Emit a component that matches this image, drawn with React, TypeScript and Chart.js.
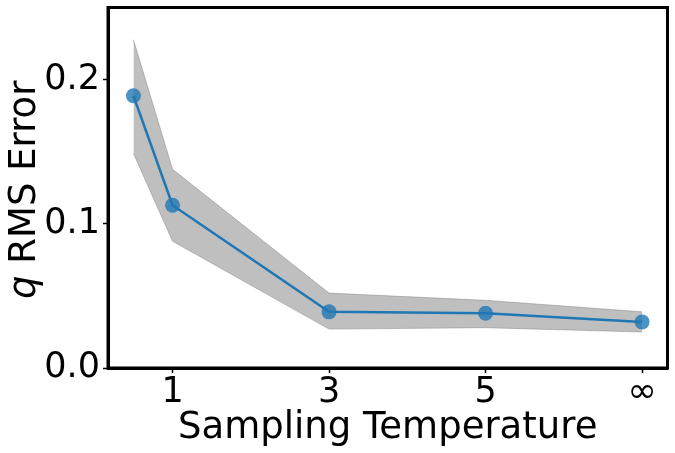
import React, { useEffect, useRef } from "react";
import { Chart, registerables } from "chart.js";

Chart.register(...registerables);

const xValues = [0.5, 1, 3, 5, 7];
const meanErr = [0.189, 0.113, 0.039, 0.038, 0.032];
const upperErr = [0.228, 0.138, 0.052, 0.047, 0.039];
const lowerErr = [0.149, 0.088, 0.027, 0.028, 0.025];

const xTickValues = [1, 3, 5, 7];
const xTickLabels = ["1", "3", "5", "∞"];
const yTickValues = [0, 0.1, 0.2];

const FONT = "'DejaVu Sans', sans-serif";

const frameAndTitle = {
  id: "frameAndTitle",
  afterDraw(chart: any) {
    const { ctx, chartArea } = chart;
    ctx.save();
    ctx.strokeStyle = "#000";
    ctx.lineWidth = 3;
    ctx.strokeRect(chartArea.left, chartArea.top, chartArea.right - chartArea.left, chartArea.bottom - chartArea.top);
    // y title with italic q
    const cy = (chartArea.top + chartArea.bottom) / 2 + 2;
    ctx.translate(35, cy);
    ctx.rotate(-Math.PI / 2);
    ctx.fillStyle = "#000";
    ctx.textBaseline = "alphabetic";
    ctx.textAlign = "left";
    const italicFont = `oblique 37px ${FONT}`;
    const normalFont = `37px ${FONT}`;
    ctx.font = italicFont;
    const w1 = ctx.measureText("q").width;
    ctx.font = normalFont;
    const rest = " RMS Error";
    const w2 = ctx.measureText(rest).width;
    const total = w1 + w2;
    ctx.font = italicFont;
    ctx.fillText("q", -total / 2, 0);
    ctx.font = normalFont;
    ctx.fillText(rest, -total / 2 + w1, 0);
    ctx.restore();
  },
};

export default function App() {
  const ref = useRef<HTMLCanvasElement>(null);
  useEffect(() => {
    document.body.style.margin = "0";
    const pts = (arr: number[]) => xValues.map((x, i) => ({ x, y: arr[i] }));
    const chart = new Chart(ref.current!, {
      type: "line",
      data: {
        datasets: [
          {
            label: "upper",
            data: pts(upperErr),
            borderColor: "rgba(128,128,128,0.45)",
            borderWidth: 1,
            backgroundColor: "rgba(128,128,128,0.5)",
            pointRadius: 0,
            fill: "+1",
            order: 3,
          },
          {
            label: "lower",
            data: pts(lowerErr),
            borderColor: "rgba(128,128,128,0.45)",
            borderWidth: 1,
            pointRadius: 0,
            fill: false,
            order: 3,
          },
          {
            label: "mean",
            data: pts(meanErr),
            borderColor: "#1f77b4",
            borderWidth: 2.5,
            pointRadius: 7.5,
            pointBackgroundColor: "rgba(31,119,180,0.8)",
            pointBorderWidth: 0,
            fill: false,
            order: 1,
          },
        ],
      },
      options: {
        animation: false,
        responsive: false,
        layout: { padding: { top: 5, right: 3, left: 0, bottom: 0 } },
        plugins: { legend: { display: false }, tooltip: { enabled: false } },
        scales: {
          x: {
            type: "linear",
            min: 0.175,
            max: 7.325,
            afterBuildTicks: (s: any) => {
              s.ticks = xTickValues.map((v) => ({ value: v }));
            },
            afterFit: (s: any) => {
              s.height = 85;
              s.paddingLeft = 0;
              s.paddingRight = 0;
            },
            ticks: {
              callback: (v: any) => xTickLabels[xTickValues.indexOf(Number(v))] ?? "",
              color: "#000",
              font: { family: FONT, size: 35, lineHeight: 1 },
              padding: 2,
              maxRotation: 0,
              autoSkip: false,
            },
            grid: { drawOnChartArea: false, drawTicks: true, tickLength: 5, color: "#000", tickWidth: 1.5 },
            border: { display: true, color: "#000", width: 3 },
            title: {
              display: true,
              text: "Sampling Temperature",
              color: "#000",
              font: { family: FONT, size: 37, lineHeight: 1.2 },
              padding: { top: 0, bottom: 2 },
            },
          },
          y: {
            type: "linear",
            min: 0,
            max: 0.2503,
            afterBuildTicks: (s: any) => {
              s.ticks = yTickValues.map((v) => ({ value: v }));
            },
            afterFit: (s: any) => {
              s.width = 108;
              s.paddingTop = 0;
              s.paddingBottom = 0;
            },
            ticks: {
              callback: (v: any) => Number(v).toFixed(1),
              color: "#000",
              font: { family: FONT, size: 35, lineHeight: 1 },
              padding: 3,
            },
            grid: { drawOnChartArea: false, drawTicks: true, tickLength: 5, color: "#000", tickWidth: 1.5 },
            border: { display: true, color: "#000", width: 3 },
          },
        },
      },
      plugins: [frameAndTitle],
    });
    return () => chart.destroy();
  }, []);
  return (
    <div style={{ position: "absolute", left: 0, top: 0, width: 675, height: 453, background: "#fff" }}>
      <canvas ref={ref} width={675} height={453} style={{ display: "block" }} />
    </div>
  );
}
